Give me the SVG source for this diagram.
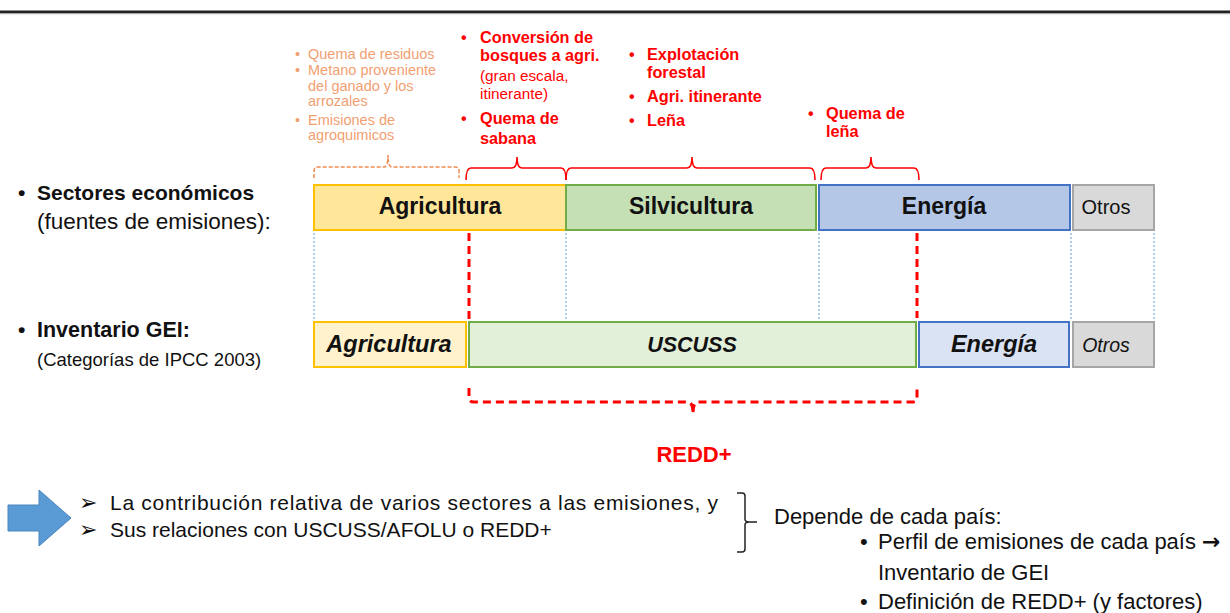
<svg xmlns="http://www.w3.org/2000/svg" width="1230" height="613" viewBox="0 0 1230 613">
<style>
text{font-family:"Liberation Sans",Arial,sans-serif;fill:#111}
.b{font-weight:bold}
.i{font-style:italic}
.red{fill:#FF0000}
.org{fill:#F2A072}
.box{stroke-width:2}
.dot{stroke:#5B9BD5;stroke-width:1;stroke-dasharray:2 2;fill:none}
.rdash{stroke:#FF0000;stroke-width:3;stroke-dasharray:8 5;fill:none}
.brace{stroke:#FF0000;stroke-width:1.6;fill:none}
.obrace{stroke:#F08C50;stroke-width:1.5;stroke-dasharray:4 2;fill:none}
.mid{text-anchor:middle}
.sym{font-family:"DejaVu Sans",sans-serif}
</style>
<rect x="0" y="0" width="1230" height="613" fill="#fff"/>
<rect x="0" y="10.5" width="1230" height="2.6" fill="#222"/>
<line x1="0" y1="13.7" x2="1230" y2="13.7" stroke="#999" stroke-width="1"/>

<g id="labels-left">
<text x="18" y="200" font-size="21" class="b">•</text>
<text x="37" y="200" font-size="21" class="b">Sectores económicos</text>
<text x="37" y="229" font-size="22.5">(fuentes de emisiones):</text>
<text x="18" y="337" font-size="21" class="b">•</text>
<text x="37" y="337" font-size="21.5" class="b">Inventario GEI:</text>
<text x="37" y="366" font-size="18.5">(Categorías de IPCC 2003)</text>
</g>

<g id="notes-agri" font-size="14.5">
<text x="295" y="59" class="org">•</text><text x="308" y="59" class="org">Quema de residuos</text>
<text x="295" y="75" class="org">•</text><text x="308" y="75" class="org">Metano proveniente</text>
<text x="308" y="91" class="org">del ganado y los</text>
<text x="308" y="106" class="org">arrozales</text>
<text x="295" y="125" class="org">•</text><text x="308" y="125" class="org">Emisiones de</text>
<text x="308" y="140" class="org">agroquimicos</text>
</g>

<g id="notes-conv">
<text x="461" y="43" font-size="16" class="b red">•</text><text x="480" y="43" font-size="16.3" class="b red">Conversión de</text>
<text x="480" y="61" font-size="16.3" class="b red">bosques a agri.</text>
<text x="480" y="81" font-size="15.3" class="red">(gran escala,</text>
<text x="480" y="99" font-size="15.3" class="red">itinerante)</text>
<text x="461" y="124" font-size="16" class="b red">•</text><text x="480" y="124" font-size="16.3" class="b red">Quema de</text>
<text x="480" y="144" font-size="16.3" class="b red">sabana</text>
</g>

<g id="notes-silv">
<text x="629" y="60" font-size="16" class="b red">•</text><text x="647" y="60" font-size="16.3" class="b red">Explotación</text>
<text x="647" y="78" font-size="16.3" class="b red">forestal</text>
<text x="629" y="102" font-size="16" class="b red">•</text><text x="647" y="102" font-size="16.3" class="b red">Agri. itinerante</text>
<text x="629" y="126" font-size="16" class="b red">•</text><text x="647" y="126" font-size="16.3" class="b red">Leña</text>
</g>

<g id="notes-ener">
<text x="808" y="119" font-size="16" class="b red">•</text><text x="826" y="119" font-size="16.3" class="b red">Quema de</text>
<text x="826" y="137" font-size="16.3" class="b red">leña</text>
</g>

<g id="node-agri-top">
<rect x="314" y="185" width="252" height="45" fill="#FFE699" stroke="#FFC000" class="box"/>
<text x="440" y="214" font-size="23" class="b mid">Agricultura</text>
</g>
<g id="node-silv-top">
<rect x="566" y="185" width="250" height="45" fill="#C5E0B4" stroke="#70AD47" class="box"/>
<text x="691" y="214" font-size="23" class="b mid">Silvicultura</text>
</g>
<g id="node-ener-top">
<rect x="819" y="185" width="251" height="45" fill="#B4C7E7" stroke="#4472C4" class="box"/>
<text x="944" y="214" font-size="23" class="b mid">Energía</text>
</g>
<g id="node-otros-top">
<rect x="1073" y="185" width="81" height="45" fill="#D9D9D9" stroke="#A5A5A5" class="box"/>
<text x="1106" y="214" font-size="20" class="mid" fill="#333">Otros</text>
</g>

<g id="node-agri-bot">
<rect x="314" y="322" width="152" height="45" fill="#FFF2CC" stroke="#FFC000" class="box"/>
<text x="389" y="352" font-size="23.5" class="b i mid">Agricultura</text>
</g>
<g id="node-uscuss">
<rect x="469" y="322" width="447" height="45" fill="#E2F0D9" stroke="#70AD47" class="box"/>
<text x="692" y="352" font-size="21.5" class="b i mid">USCUSS</text>
</g>
<g id="node-ener-bot">
<rect x="919" y="322" width="150" height="45" fill="#DAE3F3" stroke="#4472C4" class="box"/>
<text x="994" y="352" font-size="23.5" class="b i mid">Energía</text>
</g>
<g id="node-otros-bot">
<rect x="1073" y="322" width="81" height="45" fill="#D9D9D9" stroke="#A5A5A5" class="box"/>
<text x="1106" y="352" font-size="19.5" class="i mid" fill="#333">Otros</text>
</g>

<g id="connectors">
<line x1="314" y1="233" x2="314" y2="320" class="dot"/>
<line x1="566" y1="233" x2="566" y2="320" class="dot"/>
<line x1="819" y1="233" x2="819" y2="320" class="dot"/>
<line x1="1071" y1="233" x2="1071" y2="320" class="dot"/>
<line x1="1154" y1="233" x2="1154" y2="320" class="dot"/>
<line x1="469" y1="233" x2="469" y2="320" class="rdash"/>
<line x1="917" y1="233" x2="917" y2="318" class="rdash"/>
<path d="M469,388 L469,398 Q469,402 474,402 L688,402 Q693,402 693,414 Q693,402 698,402 L912,402 Q917,402 917,398 L917,388" class="rdash"/>
<path d="M314,178 L314,171 Q314,167 318,167 L384,167 Q388,167 388,155 Q388,167 392,167 L455,167 Q459,167 459,171 L459,178" class="obrace"/>
<path d="M466,180 Q466,168 471,168 L512,168 Q517,168 517,157 Q517,168 522,168 L561,168 Q566,168 566,180" class="brace"/>
<path d="M566,180 Q566,168 571,168 L687,168 Q692,168 692,157 Q692,168 697,168 L810,168 Q815,168 815,180" class="brace"/>
<path d="M821,180 Q821,168 826,168 L866,168 Q871,168 871,157 Q871,168 876,168 L914,168 Q919,168 919,180" class="brace"/>
<path d="M737,493 L742,493 Q745,493 745,496 L745,519 Q745,522 749,522 L757,522 L749,522 Q745,522 745,525 L745,549 Q745,552 742,552 L737,552" stroke="#222" stroke-width="1.5" fill="none"/>
</g>

<g id="redd">
<text x="694" y="462" font-size="22" class="b red mid">REDD+</text>
</g>

<g id="arrow">
<polygon points="8,505 39,505 39,490 71,518 39,546 39,531 8,531" fill="#5B9BD5" stroke="#4A86BE" stroke-width="1"/>
</g>

<g id="summary" font-size="21">
<text x="79" y="510" font-size="22" class="sym">➢</text>
<text x="110" y="510" textLength="608" lengthAdjust="spacing">La contribución relativa de varios sectores a las emisiones, y</text>
<text x="79" y="537" font-size="22" class="sym">➢</text>
<text x="110" y="537">Sus relaciones con USCUSS/AFOLU o REDD+</text>
</g>

<g id="depends" font-size="22">
<text x="774" y="524">Depende de cada país:</text>
<text x="860" y="549">•</text><text x="878" y="549">Perfil de emisiones de cada país <tspan class="sym" font-weight="bold" font-size="22">→</tspan></text>
<text x="878" y="580">Inventario de GEI</text>
<text x="860" y="609">•</text><text x="878" y="609">Definición de REDD+ (y factores)</text>
</g>
</svg>
